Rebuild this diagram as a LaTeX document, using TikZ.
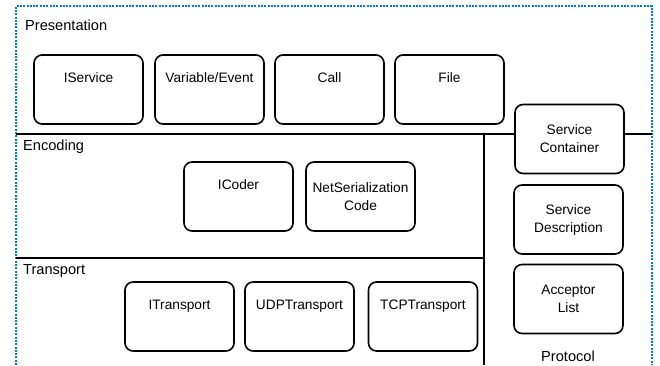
\documentclass[tikz,border=0pt]{standalone}
\usepackage{fontspec}
\setmainfont{Liberation Sans}
\definecolor{frameblue}{RGB}{0,120,212}
\begin{document}
\begin{tikzpicture}[x=1pt,y=-1pt,
    component/.style ={rectangle, rounded corners=8pt, draw, line width=1.6pt, fill=white,
       minimum width=109pt, minimum height=69pt, align=center,
       font=\fontsize{13.7}{18}\selectfont},
    layer/.style ={inner sep=0pt, font=\fontsize{14.6}{17}\selectfont}]
   \useasboundingbox (0,0) rectangle (660,365);
   % outer frame
   \draw[frameblue, line width=2pt, dash pattern=on 2pt off 1.3pt]
      (16,365) -- (16,6) -- (652,6) -- (652,365);
   % layer dividers
   \coordinate (PL) at (16,134);
   \coordinate (PR) at (652,134);
   \coordinate (EL) at (16,258);
   \coordinate (ER) at (484,258);
   \coordinate (VB) at (484,365);
   \draw[line width=1.1pt] (PL) to (PR);
   \draw[line width=1.1pt] (EL) to (ER);
   \draw[line width=1.1pt] (ER |- PL) to (VB);
   % layer names
   \node[layer, anchor=base west] (presentation) at (25,30.5) {Presentation};
   \node[layer, anchor=base west] (encoding) at (23,150) {Encoding};
   \node[layer, anchor=base west] (transport) at (23,274.5) {Transport};
   \node[layer, anchor=base] (protocol) at (568,361) {Protocol};
   % presentation
   \node[component] (iservice) at (88.5,89.5) {IService\\ \strut};
   \node[component] (varevent) at (209.5,89.5) {Variable/Event\\ \strut};
   \node[component] (call) at (329.5,89.5) {Call\\ \strut};
   \node[component] (file) at (449.5,89.5) {File\\ \strut};
   % encoding
   \node[component] (icoder) at (238.5,196.5) {ICoder\\ \strut};
   \node[component] (netser) at (360.5,196.5) {NetSerialization\\ Code};
   % transport
   \node[component] (itransport) at (179.5,316.5) {ITransport\\ \strut};
   \node[component] (udp) at (299.5,316.5) {UDPTransport\\ \strut};
   \node[component] (tcp) at (423,316.5) {TCPTransport\\ \strut};
   % protocol
   \node[component] (container) at (569.5,139) {Service\\ Container};
   \node[component] (description) at (568.5,219.5) {Service\\ Description};
   \node[component] (acceptor) at (568.5,299) {Acceptor\\ List};
\end{tikzpicture}
\end{document}
